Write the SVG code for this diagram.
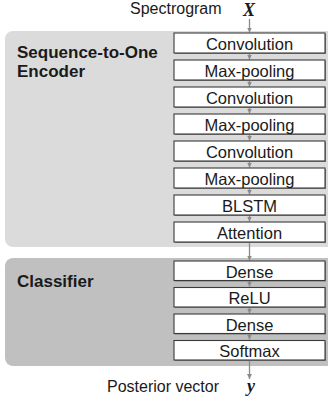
<svg xmlns="http://www.w3.org/2000/svg" width="328" height="407" viewBox="0 0 328 407">
<defs>
<marker id="ah" markerWidth="6" markerHeight="5" refX="5" refY="2.5" orient="auto" markerUnits="userSpaceOnUse">
<path d="M0,0 L5,2.5 L0,5 Z" fill="#8a8a8a"/>
</marker>
<style>
.box{fill:#ffffff;stroke:#3a3a3a;stroke-width:1.1}
.sh{fill:#808080}
.bt{font-family:"Liberation Sans",Arial,sans-serif;font-size:16.5px;fill:#1a1a1a;text-anchor:middle}
.lbl{font-family:"Liberation Sans",Arial,sans-serif;font-size:17px;font-weight:bold;fill:#1a1a1a}
.io{font-family:"Liberation Sans",Arial,sans-serif;font-size:16px;fill:#1a1a1a}
.var{font-family:"Liberation Serif","Times New Roman",serif;font-style:italic;font-weight:bold;font-size:18px;fill:#1a1a1a}
.con{stroke:#8a8a8a;stroke-width:1.3;fill:none}
</style>
</defs>
<rect width="328" height="407" fill="#ffffff"/>
<g id="encoder">
<rect x="5" y="31" width="340" height="216" rx="8" fill="#dbdbdb"/>
<text class="lbl" x="17" y="58">Sequence-to-One</text>
<text class="lbl" x="17" y="77">Encoder</text>
</g>
<g id="classifier">
<rect x="5" y="258" width="340" height="108" rx="8" fill="#c0c0c0"/>
<text class="lbl" x="17" y="287">Classifier</text>
</g>
<g id="connectors">
<line class="con" x1="249.5" y1="19" x2="249.5" y2="32.5" marker-end="url(#ah)"/>
<line class="con" x1="249.5" y1="53" x2="249.5" y2="59.5" marker-end="url(#ah)"/>
<line class="con" x1="249.5" y1="80" x2="249.5" y2="86.5" marker-end="url(#ah)"/>
<line class="con" x1="249.5" y1="107" x2="249.5" y2="113.5" marker-end="url(#ah)"/>
<line class="con" x1="249.5" y1="134" x2="249.5" y2="140.5" marker-end="url(#ah)"/>
<line class="con" x1="249.5" y1="161" x2="249.5" y2="167.5" marker-end="url(#ah)"/>
<line class="con" x1="249.5" y1="188" x2="249.5" y2="194.5" marker-end="url(#ah)"/>
<line class="con" x1="249.5" y1="215" x2="249.5" y2="221.5" marker-end="url(#ah)"/>
<line class="con" x1="249.5" y1="242" x2="249.5" y2="260.5" marker-end="url(#ah)"/>
<line class="con" x1="249.5" y1="280.5" x2="249.5" y2="286.5" marker-end="url(#ah)"/>
<line class="con" x1="249.5" y1="307" x2="249.5" y2="313.5" marker-end="url(#ah)"/>
<line class="con" x1="249.5" y1="333.5" x2="249.5" y2="339.5" marker-end="url(#ah)"/>
<line class="con" x1="249.5" y1="360" x2="249.5" y2="379" marker-end="url(#ah)"/>
</g>
<g id="input">
<text class="io" x="130" y="14">Spectrogram</text>
<text class="var" x="243" y="16">X</text>
</g>
<g id="n1"><rect class="sh" x="175" y="34" width="151" height="20"/><rect class="box" x="174" y="33" width="151" height="20"/><text class="bt" x="249.5" y="50">Convolution</text></g>
<g id="n2"><rect class="sh" x="175" y="61" width="151" height="20"/><rect class="box" x="174" y="60" width="151" height="20"/><text class="bt" x="249.5" y="77">Max-pooling</text></g>
<g id="n3"><rect class="sh" x="175" y="88" width="151" height="20"/><rect class="box" x="174" y="87" width="151" height="20"/><text class="bt" x="249.5" y="104">Convolution</text></g>
<g id="n4"><rect class="sh" x="175" y="115" width="151" height="20"/><rect class="box" x="174" y="114" width="151" height="20"/><text class="bt" x="249.5" y="131">Max-pooling</text></g>
<g id="n5"><rect class="sh" x="175" y="142" width="151" height="20"/><rect class="box" x="174" y="141" width="151" height="20"/><text class="bt" x="249.5" y="158">Convolution</text></g>
<g id="n6"><rect class="sh" x="175" y="169" width="151" height="20"/><rect class="box" x="174" y="168" width="151" height="20"/><text class="bt" x="249.5" y="185">Max-pooling</text></g>
<g id="n7"><rect class="sh" x="175" y="196" width="151" height="20"/><rect class="box" x="174" y="195" width="151" height="20"/><text class="bt" x="249.5" y="212">BLSTM</text></g>
<g id="n8"><rect class="sh" x="175" y="223" width="151" height="20"/><rect class="box" x="174" y="222" width="151" height="20"/><text class="bt" x="249.5" y="239">Attention</text></g>
<g id="n9"><rect class="sh" x="175" y="262" width="151" height="19.5"/><rect class="box" x="174" y="261" width="151" height="19.5"/><text class="bt" x="249.5" y="277.5">Dense</text></g>
<g id="n10"><rect class="sh" x="175" y="288.5" width="151" height="19.5"/><rect class="box" x="174" y="287.5" width="151" height="19.5"/><text class="bt" x="249.5" y="304">ReLU</text></g>
<g id="n11"><rect class="sh" x="175" y="315" width="151" height="19.5"/><rect class="box" x="174" y="314" width="151" height="19.5"/><text class="bt" x="249.5" y="330.5">Dense</text></g>
<g id="n12"><rect class="sh" x="175" y="341.5" width="151" height="19.5"/><rect class="box" x="174" y="340.5" width="151" height="19.5"/><text class="bt" x="249.5" y="357">Softmax</text></g>
<g id="output">
<text class="io" x="107" y="392">Posterior vector</text>
<text class="var" x="247" y="392">y</text>
</g>
</svg>
